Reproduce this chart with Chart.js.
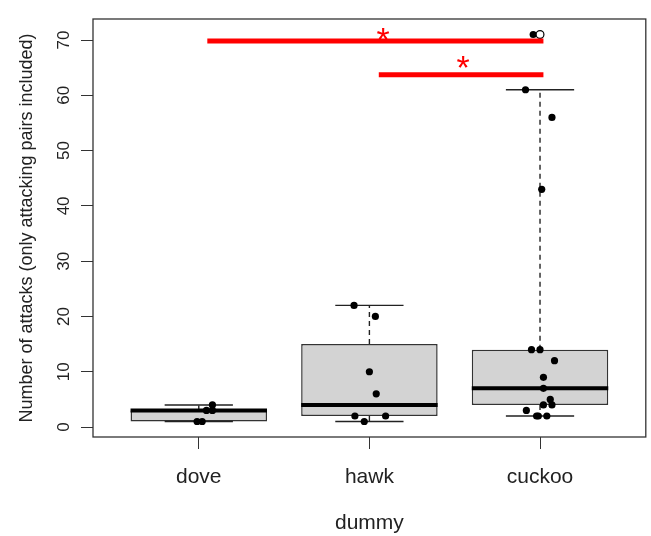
<!DOCTYPE html>
<html>
<head>
<meta charset="utf-8">
<script src="https://cdn.jsdelivr.net/npm/chart.js@4.4.1/dist/chart.umd.min.js"></script>
<style>
  html, body { margin: 0; padding: 0; background: #fff; }
  canvas { display: block; }
</style>
</head>
<body>
<canvas id="boxChart" width="651" height="536"></canvas>
<script>
const categories = ['dove', 'hawk', 'cuckoo'];

// box statistics per group
const lowerWhisker = [1, 1, 2];
const lowerQuartile = [1, 2, 4];
const medians = [3, 4, 7];
const upperQuartile = [3, 15, 14];
const upperWhisker = [4, 22, 61];
const outlierGroup = [3];
const outlierValues = [71];

const doveValues = [1, 1, 3, 3, 4];
const doveJitter = [-0.01, 0.02, 0.045, 0.08, 0.08];
const hawkValues = [22, 20, 10, 6, 2, 2, 1];
const hawkJitter = [-0.09, 0.035, 0, 0.04, -0.085, 0.095, -0.03];
const cuckooValues = [71, 61, 56, 43, 14, 14, 12, 9, 7, 5, 4, 4, 3, 2, 2, 2];
const cuckooJitter = [-0.04, -0.085, 0.07, 0.01, -0.05, 0, 0.085, 0.02, 0.02, 0.06, 0.07, 0.02, -0.08, -0.02, -0.01, 0.04];

const yTicks = [0, 10, 20, 30, 40, 50, 60, 70];

// significance bars and their stars
const sigFrom = [1.05, 2.055];
const sigTo = [3.02, 3.02];
const sigHeight = [69.8, 63.7];
const starX = [2.08, 2.55];
const starY = [71.3, 66.1];

const FONT = "'Liberation Sans', Arial, sans-serif";
const BOX_HALF = 0.4;
const CAP_HALF = 0.2;

// build line segments separated by gaps
const medianSegs = [];
const whiskerSegs = [];
const capSegs = [];
categories.forEach((c, i) => {
  const x = i + 1;
  medianSegs.push({x: x - BOX_HALF, y: medians[i]}, {x: x + BOX_HALF, y: medians[i]}, {x: x, y: null});
  whiskerSegs.push({x: x, y: upperQuartile[i]}, {x: x, y: upperWhisker[i]}, {x: x, y: null});
  whiskerSegs.push({x: x, y: lowerQuartile[i]}, {x: x, y: lowerWhisker[i]}, {x: x, y: null});
  capSegs.push({x: x - CAP_HALF, y: upperWhisker[i]}, {x: x + CAP_HALF, y: upperWhisker[i]}, {x: x, y: null});
  capSegs.push({x: x - CAP_HALF, y: lowerWhisker[i]}, {x: x + CAP_HALF, y: lowerWhisker[i]}, {x: x, y: null});
});

const sigSegs = [];
sigFrom.forEach((f, i) => {
  sigSegs.push({x: f, y: sigHeight[i]}, {x: sigTo[i], y: sigHeight[i]}, {x: f, y: null});
});

const points = [];
[[doveValues, doveJitter], [hawkValues, hawkJitter], [cuckooValues, cuckooJitter]].forEach(([vals, jit], i) => {
  vals.forEach((v, j) => points.push({x: i + 1 + jit[j], y: v}));
});

const segLine = (data, color, width, dash, order) => ({
  type: 'line', data, borderColor: color, borderWidth: width, borderDash: dash || [],
  pointRadius: 0, fill: false, tension: 0, spanGaps: false, borderCapStyle: 'butt', order
});

// frame around the plot region and the red stars
const extras = {
  id: 'extras',
  afterDatasetsDraw(chart) {
    const {ctx, chartArea: a, scales: {x, y}} = chart;
    ctx.save();
    ctx.strokeStyle = '#333';
    ctx.lineWidth = 1.3;
    ctx.strokeRect(a.left, a.top, a.right - a.left, a.bottom - a.top);
    ctx.fillStyle = '#ff0000';
    ctx.font = '34px ' + FONT;
    ctx.textAlign = 'center';
    ctx.textBaseline = 'alphabetic';
    starX.forEach((sx, i) => {
      ctx.fillText('*', x.getPixelForValue(sx), y.getPixelForValue(starY[i]) + 34 * 0.52);
    });
    ctx.restore();
  }
};

const axisGrid = {drawOnChartArea: false, tickLength: 12, color: '#333', lineWidth: 1, offset: false};

new Chart(document.getElementById('boxChart'), {
  type: 'bar',
  data: {
    datasets: [
      segLine(sigSegs, '#ff0000', 5, null, 0),
      {
        type: 'scatter', data: outlierGroup.map((g, i) => ({x: g, y: outlierValues[i]})),
        pointRadius: 3.9, pointBackgroundColor: '#fff', pointBorderColor: '#000', pointBorderWidth: 1.2, order: 1
      },
      {
        type: 'scatter', data: points,
        pointRadius: 3.6, pointBackgroundColor: '#000', pointBorderWidth: 0, order: 2
      },
      segLine(medianSegs, '#000', 4, null, 3),
      segLine(capSegs, '#222', 1.4, null, 4),
      segLine(whiskerSegs, '#222', 1.4, [5, 4], 5),
      {
        type: 'bar',
        data: categories.map((c, i) => ({x: i + 1, y: [lowerQuartile[i], upperQuartile[i]]})),
        backgroundColor: '#d3d3d3', borderColor: '#333', borderWidth: 1.5, borderSkipped: false,
        barPercentage: 0.8, categoryPercentage: 1, order: 6
      }
    ]
  },
  options: {
    responsive: false,
    animation: false,
    devicePixelRatio: 1,
    layout: {padding: {top: 19, right: 4, left: 0, bottom: 0}},
    plugins: {legend: {display: false}, tooltip: {enabled: false}},
    scales: {
      x: {
        type: 'linear', min: 0.38, max: 3.62, offset: false,
        afterBuildTicks: s => { s.ticks = categories.map((c, i) => ({value: i + 1})); },
        afterFit: s => { s.height = 99; },
        ticks: {
          callback: v => categories[v - 1], autoSkip: false, maxRotation: 0,
          font: {size: 21, family: FONT}, color: '#222', padding: 16
        },
        grid: axisGrid,
        border: {display: false},
        title: {display: true, text: 'dummy', color: '#222', font: {size: 21, family: FONT}, padding: {top: 0, bottom: 0}}
      },
      y: {
        min: -1.8, max: 73.8,
        afterBuildTicks: s => { s.ticks = yTicks.map(v => ({value: v})); },
        afterFit: s => { s.width = 93; },
        ticks: {
          minRotation: 90, maxRotation: 90, crossAlign: 'center', padding: 7,
          font: {size: 17, family: FONT}, color: '#222'
        },
        grid: axisGrid,
        border: {display: false},
        title: {
          display: true, text: 'Number of attacks (only attacking pairs included)', color: '#222',
          font: {size: 18, family: FONT}, padding: {top: 16, bottom: 0}
        }
      }
    }
  },
  plugins: [extras]
});
</script>
</body>
</html>
